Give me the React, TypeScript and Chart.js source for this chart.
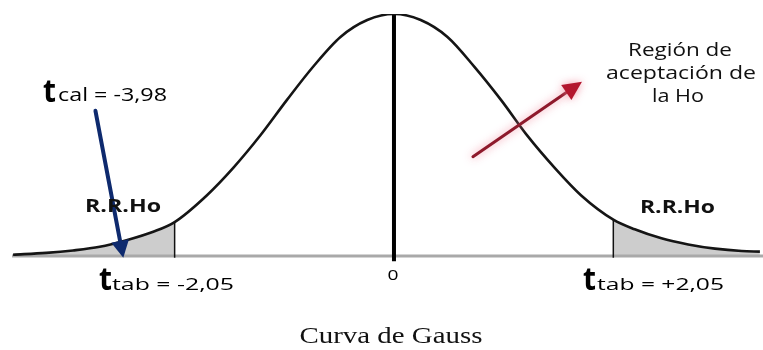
import React, { useEffect, useRef } from "react";
import { Chart, registerables } from "chart.js";
Chart.register(...registerables);

// Gauss curve (t value, height)
const curveT = [-3.56, -3.25, -3.0, -2.75, -2.5, -2.25, -2.05, -1.75, -1.5, -1.25, -1.0, -0.75, -0.5, -0.25, 0, 0.25, 0.5, 0.75, 1.0, 1.25, 1.5, 1.75, 2.05, 2.25, 2.5, 2.75, 3.0, 3.25, 3.42];
const curveY = [0.002, 0.005, 0.009, 0.015, 0.026, 0.04, 0.056, 0.1, 0.146, 0.199, 0.258, 0.314, 0.362, 0.39, 0.4, 0.39, 0.362, 0.313, 0.258, 0.198, 0.146, 0.1, 0.06, 0.044, 0.029, 0.019, 0.012, 0.008, 0.007];

const tCritLeft = -2.05;
const tCritRight = 2.05;
const axisRange = [-3.57, 3.449];

const tabLeftLabel = "tab = -2,05";
const tabRightLabel = "tab = +2,05";
const calLabel = "cal = -3,98";
const regionLines = ["Región de", "aceptación de", "la Ho"];
const rejectLabel = "R.R.Ho";
const centerTick = "0";
const titleText = "Curva de Gauss";

const curvePts = curveT.map((t, i) => ({ x: t, y: curveY[i] }));
const leftTail = curvePts.filter((p) => p.x <= tCritLeft);
const rightTail = curvePts.filter((p) => p.x >= tCritRight);
const critLeftH = curveY[curveT.indexOf(tCritLeft)];
const critRightH = curveY[curveT.indexOf(tCritRight)];
const peak = Math.max(...curveY);

function fitText(ctx: CanvasRenderingContext2D, text: string, x: number, y: number, font: string, width: number, align: string, color: string) {
  ctx.save();
  ctx.font = font;
  ctx.fillStyle = color;
  ctx.textBaseline = "alphabetic";
  ctx.textAlign = "left";
  const w = ctx.measureText(text).width;
  const left = align === "center" ? x - width / 2 : x;
  ctx.translate(left, y);
  ctx.scale(width / w, 1);
  ctx.fillText(text, 0, 0);
  ctx.restore();
}

function arrow(ctx: CanvasRenderingContext2D, x1: number, y1: number, x2: number, y2: number, color: string, headColor: string, lw: number, hl: number, hw: number, glow: string | null) {
  const a = Math.atan2(y2 - y1, x2 - x1);
  const bx = x2 - Math.cos(a) * hl;
  const by = y2 - Math.sin(a) * hl;
  ctx.save();
  if (glow) {
    ctx.shadowColor = glow;
    ctx.shadowBlur = 8;
  }
  ctx.strokeStyle = color;
  ctx.lineWidth = lw;
  ctx.lineCap = "round";
  ctx.beginPath();
  ctx.moveTo(x1, y1);
  ctx.lineTo(bx, by);
  ctx.stroke();
  ctx.fillStyle = headColor;
  ctx.beginPath();
  ctx.moveTo(x2, y2);
  ctx.lineTo(bx + Math.sin(a) * hw, by - Math.cos(a) * hw);
  ctx.lineTo(bx - Math.sin(a) * hw, by + Math.cos(a) * hw);
  ctx.closePath();
  ctx.fill();
  ctx.restore();
}

const annotPlugin = {
  id: "annot",
  afterDraw(chart: any) {
    const ctx = chart.ctx as CanvasRenderingContext2D;
    const xs = chart.scales.x;
    const ys = chart.scales.y;
    const X = (v: number) => xs.getPixelForValue(v);
    const Y = (v: number) => ys.getPixelForValue(v);
    // arrows (data space)
    arrow(ctx, X(-2.79), Y(0.24), X(-2.53), Y(-0.003), "#0e2a6e", "#0e2a6e", 4, 17, 9, null);
    arrow(ctx, X(0.738), Y(0.164), X(1.757), Y(0.288), "#8e1a2c", "#b3162e", 3, 19, 9, "rgba(240,130,150,0.85)");

    const sans = '"Open Sans", "Noto Sans", sans-serif';
    // t labels
    fitText(ctx, "t", 43, 102, `bold 32px ${sans}`, 13, "left", "#000");
    fitText(ctx, calLabel, 58, 101, `18px ${sans}`, 109, "left", "#000");
    fitText(ctx, "t", 99, 290, `bold 32px ${sans}`, 13, "left", "#000");
    fitText(ctx, tabLeftLabel, 112, 290, `17px ${sans}`, 122, "left", "#000");
    fitText(ctx, "t", 583, 290, `bold 32px ${sans}`, 13, "left", "#000");
    fitText(ctx, tabRightLabel, 597, 290, `17px ${sans}`, 127, "left", "#000");
    // rejection regions
    fitText(ctx, rejectLabel, 85, 212, `bold 18px ${sans}`, 76, "left", "#111");
    fitText(ctx, rejectLabel, 640, 213, `bold 18px ${sans}`, 75, "left", "#111");
    // acceptance region
    fitText(ctx, regionLines[0], 680, 56, `19px ${sans}`, 104, "center", "#111");
    fitText(ctx, regionLines[1], 681, 79, `19px ${sans}`, 150, "center", "#111");
    fitText(ctx, regionLines[2], 678, 102, `19px ${sans}`, 52, "center", "#111");
    // zero tick
    fitText(ctx, centerTick, X(0) - 1, 280, `15px ${sans}`, 11, "center", "#000");
    // title
    fitText(ctx, titleText, 391, 343, `24px "Liberation Serif", "Times New Roman", serif`, 183, "center", "#111");
  },
};

export default function App() {
  const ref = useRef<HTMLCanvasElement>(null);
  useEffect(() => {
    const chart = new Chart(ref.current as HTMLCanvasElement, {
      type: "scatter",
      data: {
        datasets: [
          {
            data: curvePts,
            showLine: true,
            borderColor: "#151515",
            borderWidth: 2.6,
            pointRadius: 0,
            cubicInterpolationMode: "monotone",
            fill: false,
            order: 1,
          },
          {
            data: [{ x: 0, y: -0.009 }, { x: 0, y: peak }],
            showLine: true,
            borderColor: "#000",
            borderWidth: 4,
            pointRadius: 0,
            order: 2,
          },
          {
            data: [{ x: tCritLeft, y: -0.003 }, { x: tCritLeft, y: critLeftH }],
            showLine: true,
            borderColor: "#111",
            borderWidth: 1.5,
            pointRadius: 0,
            order: 3,
          },
          {
            data: [{ x: tCritRight, y: -0.003 }, { x: tCritRight, y: critRightH }],
            showLine: true,
            borderColor: "#111",
            borderWidth: 1.5,
            pointRadius: 0,
            order: 3,
          },
          {
            data: [{ x: axisRange[0], y: 0 }, { x: axisRange[1], y: 0 }],
            showLine: true,
            borderColor: "#a9a9a9",
            borderWidth: 3,
            pointRadius: 0,
            order: 4,
          },
          {
            data: leftTail,
            showLine: true,
            borderWidth: 0,
            borderColor: "rgba(0,0,0,0)",
            backgroundColor: "#cdcdcd",
            pointRadius: 0,
            cubicInterpolationMode: "monotone",
            fill: "origin",
            order: 5,
          },
          {
            data: rightTail,
            showLine: true,
            borderWidth: 0,
            borderColor: "rgba(0,0,0,0)",
            backgroundColor: "#cdcdcd",
            pointRadius: 0,
            cubicInterpolationMode: "monotone",
            fill: "origin",
            order: 5,
          },
        ],
      } as any,
      options: {
        animation: false,
        responsive: false,
        devicePixelRatio: 1,
        layout: { padding: { left: 12, right: 0, top: 14, bottom: 82 } },
        plugins: { legend: { display: false }, tooltip: { enabled: false } },
        events: [],
        scales: {
          x: { type: "linear", min: axisRange[0], max: axisRange[1], display: false },
          y: { type: "linear", min: -0.02, max: 0.4, display: false },
        },
      } as any,
      plugins: [annotPlugin],
    });
    return () => chart.destroy();
  }, []);
  return (
    <div style={{ position: "absolute", left: 0, top: 0, width: 763, height: 350, background: "#fff" }}>
      <canvas ref={ref} width={763} height={350} style={{ display: "block", width: 763, height: 350 }} />
    </div>
  );
}
